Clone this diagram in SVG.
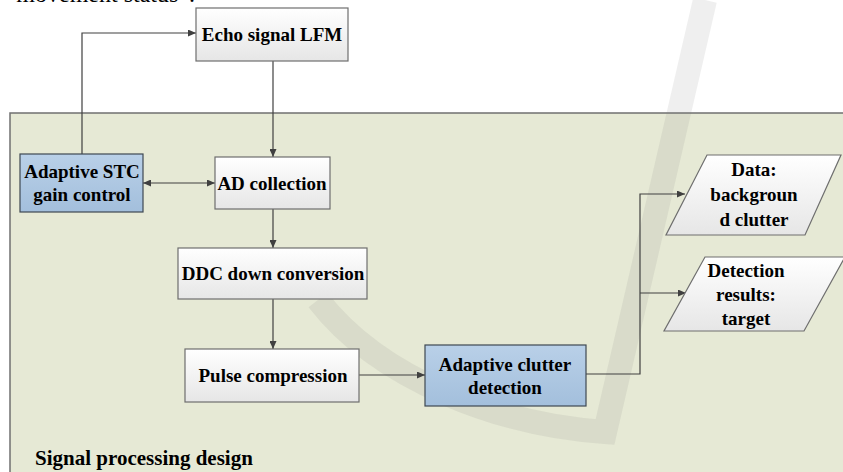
<svg xmlns="http://www.w3.org/2000/svg" width="843" height="472" viewBox="0 0 843 472">
  <defs>
    <linearGradient id="gWhite" x1="0" y1="0" x2="0" y2="1">
      <stop offset="0" stop-color="#ffffff"/>
      <stop offset="1" stop-color="#e6e6e6"/>
    </linearGradient>
    <linearGradient id="gBlue" x1="0" y1="0" x2="0" y2="1">
      <stop offset="0" stop-color="#b9d0e8"/>
      <stop offset="1" stop-color="#a3bfdc"/>
    </linearGradient>
    <marker id="arr" markerWidth="9" markerHeight="7" refX="8" refY="3.5" orient="auto" markerUnits="userSpaceOnUse">
      <path d="M0,0 L8,3.5 L0,7 z" fill="#404040"/>
    </marker>
    <marker id="arrS" markerWidth="9" markerHeight="7" refX="0" refY="3.5" orient="auto" markerUnits="userSpaceOnUse">
      <path d="M8,0 L0,3.5 L8,7 z" fill="#404040"/>
    </marker>
  </defs>
  <style>
    .lbl { font-family: "Liberation Serif", "Times New Roman", "DejaVu Serif", serif; font-weight: bold; font-size: 19px; fill: #000; text-anchor: middle; }
    .box { fill: url(#gWhite); stroke: #6e6e6e; stroke-width: 1.2; }
    .blue { fill: url(#gBlue); stroke: #3e4852; stroke-width: 1.2; }
    .con { fill: none; stroke: #404040; stroke-width: 1.2; }
  </style>

  <rect x="0" y="0" width="843" height="472" fill="#ffffff"/>
  <text x="195" y="2" font-family="Liberation Serif, Times New Roman, DejaVu Serif, serif" font-size="24" fill="#000" text-anchor="end">movement status”.</text>

  <g id="container">
    <rect x="10" y="113" width="860" height="380" fill="#e6e9d5" stroke="#707070" stroke-width="1.5"/>
  </g>

  <g id="watermark">
    <path d="M 318 300 C 380 380, 500 425, 605 432 L 705 0" fill="none" stroke="#7a7a7a" stroke-opacity="0.12" stroke-width="24"/>
  </g>

  <g id="connectors">
    <polyline class="con" points="82,154 82,33 196,33" marker-end="url(#arr)"/>
    <line class="con" x1="273" y1="61" x2="273" y2="157" marker-end="url(#arr)"/>
    <line class="con" x1="143" y1="183" x2="215" y2="183" marker-start="url(#arrS)" marker-end="url(#arr)"/>
    <line class="con" x1="273" y1="209" x2="273" y2="248" marker-end="url(#arr)"/>
    <line class="con" x1="273" y1="299" x2="273" y2="349" marker-end="url(#arr)"/>
    <line class="con" x1="359" y1="375" x2="425" y2="375" marker-end="url(#arr)"/>
    <polyline class="con" points="586,374 640,374 640,194 685,194" marker-end="url(#arr)"/>
    <line class="con" x1="640" y1="293" x2="686" y2="293" marker-end="url(#arr)"/>
  </g>

  <g id="echo">
    <rect class="box" x="196" y="8" width="152" height="53"/>
    <text class="lbl" x="272" y="41">Echo signal LFM</text>
  </g>
  <g id="stc">
    <rect class="blue" x="20" y="154" width="123" height="58"/>
    <text class="lbl" x="82" y="178">Adaptive STC</text>
    <text class="lbl" x="82" y="201">gain control</text>
  </g>
  <g id="ad">
    <rect class="box" x="215" y="157" width="115" height="52"/>
    <text class="lbl" x="272" y="190">AD collection</text>
  </g>
  <g id="ddc">
    <rect class="box" x="178" y="248" width="189" height="51"/>
    <text class="lbl" x="273" y="280">DDC down conversion</text>
  </g>
  <g id="pulse">
    <rect class="box" x="185" y="349" width="174" height="53"/>
    <text class="lbl" x="273" y="382">Pulse compression</text>
  </g>
  <g id="acd">
    <rect class="blue" x="425" y="345" width="161" height="61"/>
    <text class="lbl" x="505" y="371">Adaptive clutter</text>
    <text class="lbl" x="505" y="394">detection</text>
  </g>
  <g id="data">
    <polygon class="box" points="707,155 841,155 805,235 666,235"/>
    <text class="lbl" x="754" y="176">Data:</text>
    <text class="lbl" x="754" y="201">backgroun</text>
    <text class="lbl" x="754" y="226">d clutter</text>
  </g>
  <g id="results">
    <polygon class="box" points="705,257 845,257 804,331 664,331"/>
    <text class="lbl" x="746" y="277">Detection</text>
    <text class="lbl" x="746" y="301">results:</text>
    <text class="lbl" x="746" y="325">target</text>
  </g>
  <g id="title">
    <text class="lbl" x="35" y="465" style="text-anchor:start;font-size:21px">Signal processing design</text>
  </g>
</svg>
